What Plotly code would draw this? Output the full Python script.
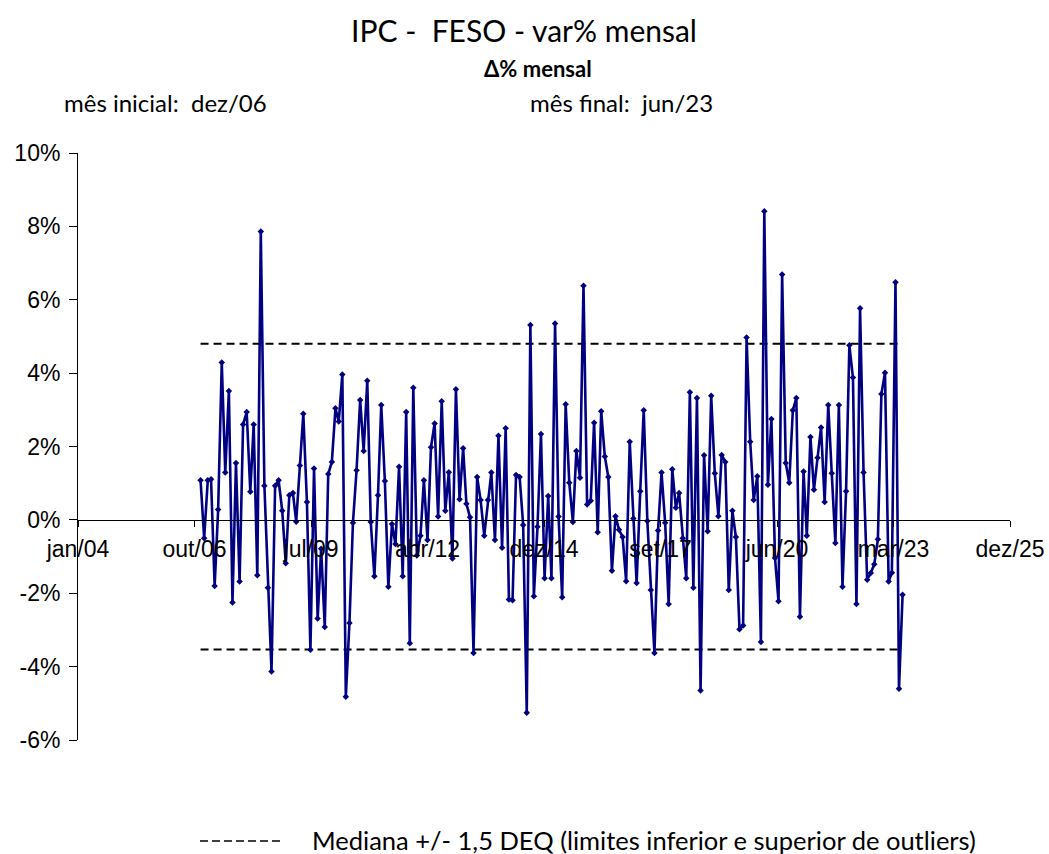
import pandas as pd
import plotly.graph_objects as go

# monthly % variation, dez/06 .. jun/23
values = [
    1.08, -0.50, 1.08, 1.11, -1.80, 0.28, 4.29, 1.29, 3.51, -2.25, 1.55, -1.68, 2.60,
    2.94, 0.77, 2.60, -1.51, 7.86, 0.93, -1.85, -4.13, 0.93, 1.08, 0.25, -1.18, 0.67,
    0.73, -0.05, 1.48, 2.89, 0.49, -3.54, 1.40, -2.69, -0.79, -2.92, 1.25, 1.58, 3.04,
    2.68, 3.96, -4.82, -2.81, -0.08, 1.35, 3.27, 1.88, 3.79, -0.06, -1.54, 0.67, 3.13, 1.06,
    -1.82, -0.11, -0.66, 1.45, -1.54, 2.94, -3.36, 3.60, -0.97, -0.43, 1.08, -0.55, 1.98,
    2.63, 0.09, 3.23, 0.25, 1.30, -1.05, 3.56, 0.56, 1.95, 0.44, 0.07, -3.63, 1.17,
    0.54, -0.43, 0.54, 1.29, -0.55, 2.29, -0.76, 2.50, -2.17, -2.19, 1.22, 1.17, -0.14, -5.26,
    5.31, -2.08, -0.19, 2.34, -1.59, 0.65, -1.59, 5.35, 0.09, -2.11, 3.15, 1.01, -0.06, 1.88,
    1.15, 6.38, 0.42, 0.52, 2.65, -0.34, 2.96, 1.73, 1.17, -1.39, 0.10, -0.27, -0.47,
    -1.67, 2.13, 0.04, -1.72, 0.78, 2.99, -0.03, -1.91, -3.63, -0.29, 1.29, -0.08,
    -2.29, 1.38, 0.33, 0.73, -0.50, -1.59, 3.48, -1.85, 3.32, -4.65, 1.76, -0.31, 3.38,
    1.27, 0.10, 1.77, 1.58, -1.91, 0.25, -0.47, -2.98, -2.88, 4.97, 2.13, 0.54, 1.19, -3.33, 8.41,
    0.96, 2.75, -1.04, -2.22, 6.69, 1.55, 1.01, 2.99, 3.32, -2.64, 1.32, -0.43, 2.26,
    0.82, 1.69, 2.52, 0.49, 3.13, 1.27, -0.63, 3.13, -1.82, 0.78, 4.76, 3.88, -2.29, 5.77,
    1.29, -1.63, -1.45, -1.21, -0.53, 3.43, 4.01, -1.68, -1.44, 6.48, -4.60, -2.04,
]
start_month = "2006-12-01"
upper_limit = 4.80
lower_limit = -3.53

x_tick_dates = ["2004-01-14", "2006-10-10", "2009-07-06", "2012-04-01", "2014-12-27",
                "2017-09-22", "2020-06-18", "2023-03-15", "2025-12-09"]
x_tick_labels = ["jan/04", "out/06", "jul/09", "abr/12", "dez/14", "set/17", "jun/20", "mar/23", "dez/25"]
y_tick_vals = [-6, -4, -2, 0, 2, 4, 6, 8, 10]
y_tick_labels = ["-6%", "-4%", "-2%", "0%", "2%", "4%", "6%", "8%", "10%"]

dates = pd.date_range(start_month, periods=len(values), freq="MS")

W, H = 1049, 854
ML, MR, MT, MB = 78, 39, 153, 114

fig = go.Figure()
fig.add_trace(go.Scatter(x=[dates[0], dates[-1]], y=[upper_limit, upper_limit], mode="lines",
                         line=dict(color="black", width=2, dash="8px,5px"), hoverinfo="skip"))
fig.add_trace(go.Scatter(x=[dates[0], dates[-1]], y=[lower_limit, lower_limit], mode="lines",
                         line=dict(color="black", width=2, dash="8px,5px"), hoverinfo="skip"))
fig.add_trace(go.Scatter(x=dates, y=values, mode="lines+markers",
                         line=dict(color="#000080", width=2.6),
                         marker=dict(symbol="diamond", size=5, color="#000080")))

fig.update_layout(
    width=W, height=H,
    margin=dict(l=ML, r=MR, t=MT, b=MB, autoexpand=False),
    paper_bgcolor="white", plot_bgcolor="white",
    showlegend=False,
    font=dict(family="Liberation Sans, Arial", size=23, color="black"),
)
fig.update_xaxes(
    type="date", range=[x_tick_dates[0], x_tick_dates[-1]],
    tickvals=x_tick_dates, ticktext=x_tick_labels,
    showgrid=False, zeroline=False, showline=True, linecolor="black", linewidth=1,
    ticks="outside", ticklen=6, tickcolor="black", ticklabelstandoff=3,
    anchor="free", position=0.375, automargin=False,
    tickfont=dict(family="Liberation Sans, Arial", size=23),
)
fig.update_yaxes(
    range=[-6, 10], tickvals=y_tick_vals, ticktext=y_tick_labels,
    showgrid=False, zeroline=False, showline=True, linecolor="black", linewidth=1,
    ticks="outside", ticklen=8, tickcolor="black", ticklabelstandoff=4, automargin=False,
    tickfont=dict(family="Liberation Sans, Arial", size=23),
)

txt = "Lato, Open Sans, sans-serif"
anns = [
    dict(x=524, y=30, text="IPC -  FESO - var% mensal", size=30, anchor="center"),
    dict(x=538, y=68, text="<b>Δ% mensal</b>", size=22, anchor="center"),
    dict(x=62, y=103, text="mês inicial:  dez/06", size=24, anchor="left"),
    dict(x=528, y=103, text="mês final:  jun/23", size=24, anchor="left"),
    dict(x=310, y=840, text="Mediana +/- 1,5 DEQ (limites inferior e superior de outliers)", size=25.5, anchor="left"),
]
pw, ph = W - ML - MR, H - MT - MB
for a in anns:
    fig.add_annotation(
        x=(a["x"] - ML) / pw, y=1 - (a["y"] - MT) / ph,
        xref="paper", yref="paper", text=a["text"], showarrow=False,
        xanchor=a["anchor"], yanchor="middle",
        font=dict(family=txt, size=a["size"], color="black"),
    )
fig.add_shape(type="line", xref="paper", yref="paper",
              x0=(200 - ML) / pw, x1=(281 - ML) / pw,
              y0=1 - (841 - MT) / ph, y1=1 - (841 - MT) / ph,
              line=dict(color="black", width=1.5, dash="8px,4px"))

fig.write_html("out.html", config={"displayModeBar": False},
               post_script="document.body.style.margin='0px';document.body.style.overflow='hidden';")
